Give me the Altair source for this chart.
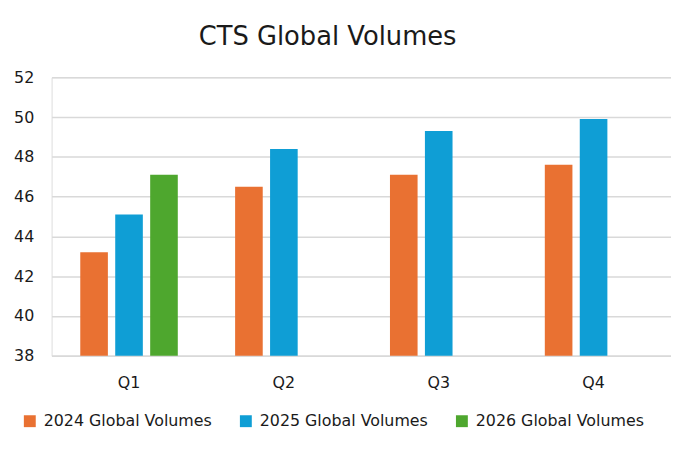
import altair as alt
import pandas as pd

quarters = ["Q1", "Q2", "Q3", "Q4"]
series = ["2024 Global Volumes", "2025 Global Volumes", "2026 Global Volumes"]
v2024 = [43.2, 46.5, 47.1, 47.6]
v2025 = [45.1, 48.4, 49.3, 49.9]
v2026 = [47.1, None, None, None]
colors = ["#E97132", "#0F9ED5", "#4EA72E"]
y_ticks = [38, 40, 42, 44, 46, 48, 50, 52]
y_min = 38

rows = []
for s, vals in zip(series, [v2024, v2025, v2026]):
    for q, v in zip(quarters, vals):
        if v is not None:
            rows.append({"Quarter": q, "Series": s, "Value": v})
df = pd.DataFrame(rows)

FONT = "DejaVu Sans"
TXT = "#1a1a1a"

chart = alt.Chart(df).mark_bar().encode(
    x=alt.X("Quarter:N", sort=quarters,
            scale=alt.Scale(paddingInner=0, paddingOuter=0),
            axis=alt.Axis(title=None, labelAngle=0, ticks=False, domain=True,
                          domainColor="#D9D9D9", domainWidth=1.5,
                          labelFontSize=16, labelColor=TXT, labelFont=FONT,
                          labelPadding=19)),
    xOffset=alt.XOffset("Series:N", sort=series,
                        scale=alt.Scale(domain=series, paddingInner=0.21, paddingOuter=0.82)),
    y=alt.Y("Value:Q",
            scale=alt.Scale(domain=[38, 52], zero=False, nice=False),
            axis=alt.Axis(title=None, values=y_ticks, grid=True, gridColor="#D9D9D9",
                          gridWidth=1.5, domain=False, ticks=False,
                          labelFontSize=16, labelColor=TXT, labelFont=FONT,
                          labelPadding=18)),
    y2=alt.datum(y_min),
    color=alt.Color("Series:N", sort=series,
                    scale=alt.Scale(domain=series, range=colors),
                    legend=alt.Legend(title=None, orient="none", direction="horizontal",
                                      legendX=-30, legendY=339,
                                      symbolType="square", symbolSize=144,
                                      symbolStrokeWidth=0,
                                      labelFontSize=16, labelColor=TXT, labelFont=FONT,
                                      labelOffset=6, columnPadding=26, labelLimit=300)),
).properties(
    width=625,
    height=281,
    title=alt.TitleParams("CTS Global Volumes", fontSize=26, font=FONT, fontWeight="normal",
                          color=TXT, anchor="middle", frame="group", dx=-34, offset=20),
    padding={"left": 5, "top": 14, "right": 0, "bottom": 5},
).configure_view(strokeWidth=0, stroke="transparent").configure(background="white")

chart.save("out.html", embed_options={"renderer": "svg", "actions": False})
